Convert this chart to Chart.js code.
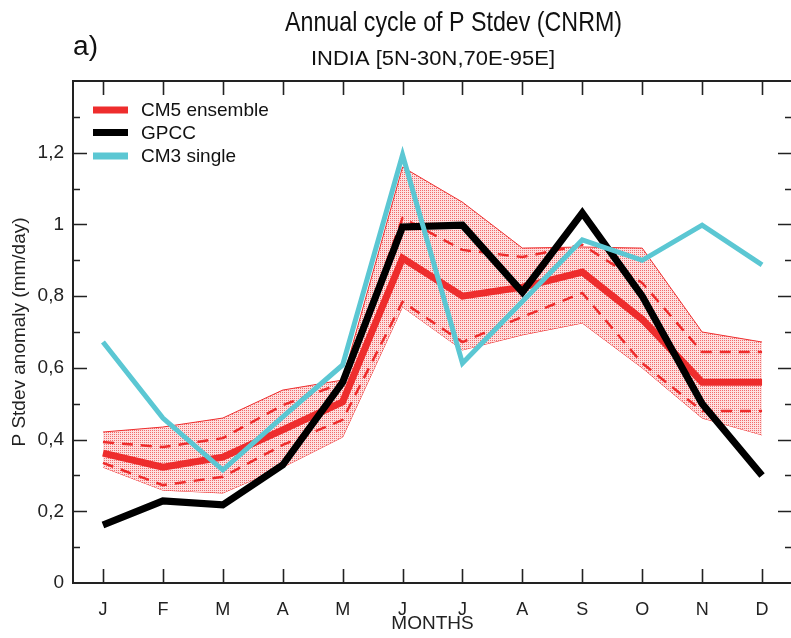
<!DOCTYPE html>
<html>
<head>
<meta charset="utf-8">
<script src="https://cdn.jsdelivr.net/npm/chart.js@4.4.0/dist/chart.umd.min.js"></script>
<style>
html, body { margin: 0; padding: 0; overflow: hidden; background: #fff; }
canvas { display: block; }
</style>
</head>
<body>
<canvas id="chart" width="800" height="638"></canvas>
<script>
// months on the x axis
const months = ["J", "F", "M", "A", "M", "J", "J", "A", "S", "O", "N", "D"];
// CM5 ensemble mean and its spread
const cm5Mean  = [0.362, 0.323, 0.351, 0.427, 0.505, 0.906, 0.800, 0.825, 0.867, 0.735, 0.560, 0.560];
const cm5Upper = [0.393, 0.379, 0.404, 0.496, 0.558, 1.018, 0.929, 0.909, 0.943, 0.837, 0.644, 0.644];
const cm5Lower = [0.335, 0.273, 0.296, 0.385, 0.455, 0.784, 0.672, 0.742, 0.809, 0.613, 0.480, 0.480];
const cm5Max   = [0.421, 0.435, 0.460, 0.538, 0.566, 1.160, 1.062, 0.934, 0.937, 0.934, 0.700, 0.672];
const cm5Min   = [0.323, 0.259, 0.251, 0.323, 0.407, 0.770, 0.650, 0.692, 0.725, 0.600, 0.460, 0.413];
// observations and the old model run
const gpcc     = [0.162, 0.229, 0.218, 0.329, 0.560, 0.993, 0.998, 0.811, 1.032, 0.800, 0.500, 0.300];
const cm3      = [0.672, 0.460, 0.315, 0.463, 0.608, 1.194, 0.613, 0.785, 0.957, 0.900, 0.998, 0.887];
const yTicks   = [0, 0.2, 0.4, 0.6, 0.8, 1, 1.2];

const RED = "#ee2d2d", CYAN = "#5bc7d3", BLACK = "#000";
const FONT = "'Liberation Sans', Arial, Helvetica, sans-serif";

Chart.defaults.font.family = FONT;
Chart.defaults.color = "#222";

/** pointillé rose pour la bande min/max */
function makeStipple() {
    const c = document.createElement("canvas");
    c.width = 2; c.height = 2;
    const g = c.getContext("2d");
    g.fillStyle = "#fde0e0";
    g.fillRect(0, 0, 2, 2);
    g.fillStyle = "#f26a6a";
    g.fillRect(0, 0, 1, 1);
    return g.createPattern(c, "repeat");
}

/** texte étiré/compressé pour tenir une largeur donnée */
function fitText(ctx, text, x, y, width, size) {
    ctx.font = size + "px " + FONT;
    const w = ctx.measureText(text).width;
    ctx.save();
    ctx.translate(x, y);
    ctx.scale(width / w, 1);
    ctx.fillText(text, 0, 0);
    ctx.restore();
}

// cadre + graduations vers l'intérieur sur les 4 côtés
const frameTicks = {
    id: "frameTicks",
    afterDatasetsDraw(chart) {
        const { ctx, chartArea: a, scales: { x, y } } = chart;
        ctx.save();
        ctx.strokeStyle = "#222";
        ctx.lineWidth = 2;
        ctx.strokeRect(a.left, a.top, a.right - a.left, a.bottom - a.top);
        ctx.lineWidth = 1.6;
        ctx.beginPath();
        months.forEach((m, i) => {
            const px = Math.round(x.getPixelForValue(i)) + 0.5;
            ctx.moveTo(px, a.bottom); ctx.lineTo(px, a.bottom - 14);
            ctx.moveTo(px, a.top); ctx.lineTo(px, a.top + 14);
        });
        for (let k = 1; k < 14; k++) {
            const py = Math.round(y.getPixelForValue(k / 10)) + 0.5;
            const len = k % 2 ? 7 : 14;
            ctx.moveTo(a.left, py); ctx.lineTo(a.left + len, py);
            ctx.moveTo(a.right, py); ctx.lineTo(a.right - len, py);
        }
        ctx.stroke();
        ctx.restore();
    }
};

// titres + légende
const labels = {
    id: "labels",
    afterDraw(chart) {
        const ctx = chart.ctx;
        ctx.save();
        ctx.fillStyle = "#111";
        ctx.textBaseline = "alphabetic";
        ctx.textAlign = "left";
        fitText(ctx, "Annual cycle of P Stdev (CNRM)", 285, 31, 337, 28);
        fitText(ctx, "INDIA [5N-30N,70E-95E]", 311, 65, 244, 20);
        fitText(ctx, "a)", 73, 55, 25, 27);

        const items = [
            { text: "CM5 ensemble", color: RED, y: 110 },
            { text: "GPCC", color: BLACK, y: 132.5 },
            { text: "CM3 single", color: CYAN, y: 156 }
        ];
        ctx.font = "19px " + FONT;
        ctx.textBaseline = "middle";
        items.forEach(it => {
            ctx.fillStyle = it.color;
            ctx.fillRect(93, it.y - 3.5, 35, 7);
            ctx.fillStyle = "#111";
            ctx.fillText(it.text, 141, it.y + 1);
        });
        ctx.restore();
    }
};

const stipple = makeStipple();
const dashed = { borderColor: RED, borderWidth: 2.5, borderDash: [11, 8], pointRadius: 0, fill: false, order: 3 };

new Chart("chart", {
    type: "line",
    data: {
        labels: months,
        datasets: [
            { label: "min", data: cm5Min, borderColor: RED, borderWidth: 1, pointRadius: 0, fill: false, order: 5 },
            { label: "max", data: cm5Max, borderColor: RED, borderWidth: 1, pointRadius: 0, fill: 0, backgroundColor: stipple, order: 4 },
            Object.assign({ label: "upper", data: cm5Upper }, dashed),
            Object.assign({ label: "lower", data: cm5Lower }, dashed),
            { label: "CM5 ensemble", data: cm5Mean, borderColor: RED, borderWidth: 7, pointRadius: 0, fill: false, order: 2, borderJoinStyle: "miter" },
            { label: "GPCC", data: gpcc, borderColor: BLACK, borderWidth: 7, pointRadius: 0, fill: false, order: 1, borderJoinStyle: "miter" },
            { label: "CM3 single", data: cm3, borderColor: CYAN, borderWidth: 5, pointRadius: 0, fill: false, order: 0, borderJoinStyle: "miter" }
        ]
    },
    options: {
        responsive: false,
        animation: false,
        devicePixelRatio: 1,
        layout: { padding: { left: 0, top: 81, right: 8, bottom: 0 } },
        plugins: { legend: { display: false }, tooltip: { enabled: false } },
        elements: { line: { tension: 0 } },
        scales: {
            x: {
                type: "category",
                offset: true,
                grid: { display: false, drawTicks: false },
                border: { display: false },
                ticks: { padding: 16, font: { size: 18 }, color: "#222", maxRotation: 0, autoSkip: false },
                title: { display: true, text: "MONTHS", font: { size: 19 }, color: "#222", padding: { top: 0, bottom: 3 } },
                afterFit(scale) { scale.height = 55; }
            },
            y: {
                min: 0,
                max: 1.4,
                grid: { display: false, drawTicks: false },
                border: { display: false },
                afterBuildTicks(scale) { scale.ticks = yTicks.map(v => ({ value: v })); },
                ticks: {
                    padding: 9,
                    font: { size: 19 },
                    color: "#222",
                    callback: v => String(Math.round(v * 10) / 10).replace(".", ",")
                },
                title: { display: true, text: "P Stdev anomaly (mm/day)", font: { size: 19 }, color: "#222", padding: { top: 8, bottom: 0 } },
                afterFit(scale) { scale.width = 73; }
            }
        }
    },
    plugins: [frameTicks, labels]
});
</script>
</body>
</html>
